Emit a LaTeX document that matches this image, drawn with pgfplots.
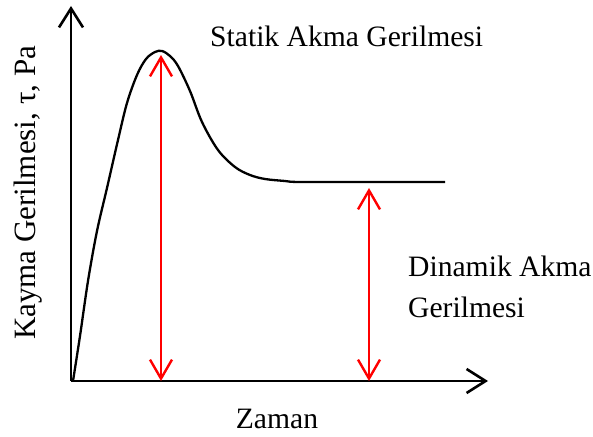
\documentclass[border=0pt]{standalone}
\usepackage{pgfplots}
\pgfplotsset{compat=1.18}
\usetikzlibrary{arrows.meta}
\usepackage{fontspec}
\setmainfont{Liberation Serif}
\begin{document}
\begin{tikzpicture}[x=1pt,y=1pt]
\begin{axis}[
  scale only axis, width=417pt, height=375pt,
  xmin=71, xmax=488, ymin=0, ymax=375,
  axis lines=left, axis line style={line width=2.4pt, -{Straight Barb[length=19pt,width=24pt,line width=2.6pt]}},
  ticks=none, clip=false,
]
% bounding box of the whole figure
\path (axis cs:0,-55) rectangle (axis cs:593,381);
% shear stress vs. time
\addplot[black, line width=2.3pt, smooth, tension=0.55] coordinates {
 (73,0) (80,45) (88,100) (97,150) (107,193) (118,241) (127,278)
 (137,306) (146,322) (155,329) (162,330) (170,325) (178,315) (190,290)
 (202,259) (218,231) (235,214) (250,206) (265,202) (285,200) (300,199)
 (370,199) (445,199)
};
% static and dynamic yield stress
\addplot[red, line width=2.2pt, {Straight Barb[length=19pt,width=22pt,line width=2.4pt]}-{Straight Barb[length=19pt,width=22pt,line width=2.4pt]}] coordinates {(161,0) (161,326)};
\addplot[red, line width=2.2pt, {Straight Barb[length=19pt,width=22pt,line width=2.4pt]}-{Straight Barb[length=19pt,width=22pt,line width=2.4pt]}] coordinates {(369,0) (369,193)};
\node[anchor=base west, font=\fontsize{29.6}{36}\selectfont, inner sep=0pt] at (axis cs:210,334) {Statik Akma Gerilmesi};
\node[anchor=base west, font=\fontsize{29.6}{36}\selectfont, inner sep=0pt] at (axis cs:408,104) {Dinamik Akma};
\node[anchor=base west, font=\fontsize{29.6}{36}\selectfont, inner sep=0pt] at (axis cs:408,64) {Gerilmesi};
\node[anchor=base, font=\fontsize{29.6}{36}\selectfont, inner sep=0pt] at (axis cs:277,-47) {Zaman};
\node[rotate=90, anchor=base, font=\fontsize{31}{36}\selectfont, inner sep=0pt] at (axis cs:36,188) {Kayma Gerilmesi, τ, Pa};
\end{axis}
\end{tikzpicture}
\end{document}
